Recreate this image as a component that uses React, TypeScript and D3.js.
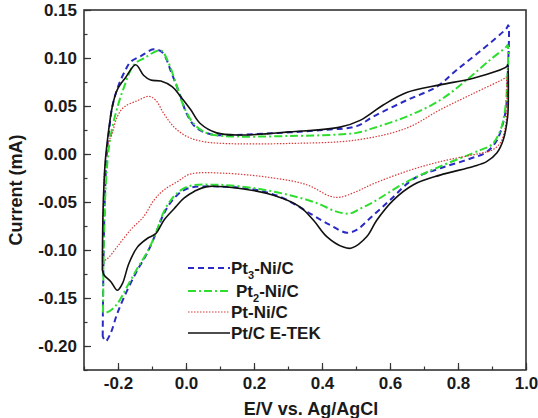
import React, { useEffect, useRef } from "react";
import * as d3 from "d3";

type Pt = [number, number];

// Pt3-Ni/C: anodic sweep then cathodic sweep
const pt3Ni: Pt[] = [
  [-0.245, -0.19], [-0.243, -0.12], [-0.239, -0.05], [-0.233, 0.0], [-0.226, 0.025], [-0.217, 0.049],
  [-0.2, 0.07], [-0.18, 0.086], [-0.163, 0.096], [-0.133, 0.102], [-0.096, 0.109], [-0.07, 0.106],
  [-0.04, 0.082], [-0.016, 0.06], [0.002, 0.042], [0.031, 0.027], [0.08, 0.02], [0.11, 0.0195],
  [0.257, 0.0216], [0.404, 0.025], [0.502, 0.029], [0.551, 0.039], [0.649, 0.056], [0.737, 0.07],
  [0.796, 0.0875], [0.865, 0.107], [0.943, 0.131], [0.948, 0.134],
  [0.946, 0.08], [0.942, 0.05], [0.933, 0.033], [0.914, 0.014], [0.884, 0.002], [0.835, -0.005],
  [0.747, -0.015], [0.669, -0.026], [0.6, -0.048], [0.541, -0.067], [0.502, -0.079], [0.473, -0.082],
  [0.424, -0.074], [0.365, -0.062], [0.286, -0.046], [0.208, -0.0375], [0.11, -0.034], [0.004, -0.036],
  [-0.035, -0.046], [-0.065, -0.062], [-0.089, -0.083], [-0.114, -0.103], [-0.143, -0.121],
  [-0.173, -0.142], [-0.202, -0.166], [-0.222, -0.187], [-0.236, -0.195], [-0.245, -0.19],
];

const pt2Ni: Pt[] = [
  [-0.244, -0.165], [-0.242, -0.1], [-0.237, -0.04], [-0.229, 0.0], [-0.222, 0.018], [-0.207, 0.042],
  [-0.182, 0.07], [-0.153, 0.093], [-0.124, 0.0997], [-0.074, 0.108], [-0.055, 0.098], [-0.03, 0.074],
  [-0.006, 0.049], [0.024, 0.031], [0.06, 0.022], [0.11, 0.0188], [0.306, 0.0188], [0.502, 0.022],
  [0.551, 0.027], [0.649, 0.039], [0.747, 0.056], [0.825, 0.077], [0.894, 0.098], [0.943, 0.112],
  [0.946, 0.1135],
  [0.944, 0.07], [0.938, 0.045], [0.925, 0.025], [0.9, 0.01], [0.865, 0.004], [0.747, -0.013],
  [0.649, -0.029], [0.551, -0.05], [0.512, -0.057], [0.482, -0.062], [0.443, -0.06], [0.384, -0.051],
  [0.306, -0.043], [0.208, -0.036], [0.09, -0.032], [0.004, -0.034], [-0.035, -0.044], [-0.065, -0.06],
  [-0.089, -0.083], [-0.114, -0.102], [-0.143, -0.119], [-0.173, -0.138], [-0.202, -0.156],
  [-0.226, -0.164], [-0.244, -0.166],
];

const ptNi: Pt[] = [
  [-0.246, -0.112], [-0.244, -0.06], [-0.238, -0.01], [-0.228, 0.012], [-0.217, 0.0216], [-0.202, 0.039],
  [-0.182, 0.049], [-0.143, 0.0555], [-0.109, 0.06], [-0.089, 0.056], [-0.065, 0.042], [-0.035, 0.028],
  [0.004, 0.018], [0.05, 0.013], [0.11, 0.011], [0.306, 0.011], [0.502, 0.0146], [0.649, 0.027],
  [0.747, 0.046], [0.845, 0.063], [0.938, 0.079], [0.941, 0.08],
  [0.944, 0.06], [0.94, 0.03], [0.925, 0.012], [0.9, 0.004], [0.865, 0.0007], [0.747, -0.008],
  [0.649, -0.018], [0.551, -0.031], [0.502, -0.039], [0.453, -0.045], [0.424, -0.044], [0.355, -0.032],
  [0.257, -0.025], [0.11, -0.02], [0.012, -0.021], [-0.026, -0.029], [-0.065, -0.0375], [-0.094, -0.048],
  [-0.124, -0.065], [-0.163, -0.079], [-0.202, -0.0965], [-0.231, -0.109], [-0.246, -0.112],
];

const ptcEtek: Pt[] = [
  [-0.246, -0.121], [-0.244, -0.06], [-0.238, -0.01], [-0.231, 0.0146], [-0.217, 0.049], [-0.202, 0.067],
  [-0.177, 0.08], [-0.148, 0.093], [-0.125, 0.082], [-0.104, 0.077], [-0.074, 0.076], [-0.04, 0.07],
  [-0.016, 0.06], [0.014, 0.046], [0.041, 0.032], [0.09, 0.022], [0.159, 0.0198], [0.306, 0.023],
  [0.453, 0.028], [0.512, 0.035], [0.58, 0.051], [0.649, 0.064], [0.747, 0.072], [0.845, 0.079],
  [0.943, 0.091], [0.946, 0.093],
  [0.948, 0.06], [0.946, 0.039], [0.933, 0.0146], [0.914, 0.001], [0.884, -0.008], [0.845, -0.013],
  [0.747, -0.022], [0.669, -0.032], [0.61, -0.048], [0.561, -0.069], [0.532, -0.086], [0.487, -0.098],
  [0.463, -0.097], [0.414, -0.086], [0.375, -0.069], [0.335, -0.055], [0.257, -0.043], [0.159, -0.036],
  [0.061, -0.034], [0.024, -0.039], [-0.006, -0.046], [-0.035, -0.057], [-0.065, -0.069],
  [-0.089, -0.083], [-0.114, -0.088], [-0.143, -0.097], [-0.168, -0.114], [-0.187, -0.135],
  [-0.202, -0.142], [-0.221, -0.133], [-0.241, -0.126], [-0.246, -0.121],
];

const xTicks = [-0.2, 0.0, 0.2, 0.4, 0.6, 0.8, 1.0];
const yTicks = [-0.2, -0.15, -0.1, -0.05, 0.0, 0.05, 0.1, 0.15];

const series = [
  { name: "Pt", sub: "3", rest: "-Ni/C", data: pt3Ni, color: "#2a2ac4", width: 2, dash: "6,4" },
  { name: "Pt", sub: "2", rest: "-Ni/C", data: pt2Ni, color: "#2ede2e", width: 2, dash: "8,3,2,3" },
  { name: "Pt-Ni/C", sub: "", rest: "", data: ptNi, color: "#d83a3a", width: 1.2, dash: "1.5,1.5" },
  { name: "Pt/C E-TEK", sub: "", rest: "", data: ptcEtek, color: "#111111", width: 1.6, dash: "" },
];

const FONT = "'Liberation Sans', Arial, sans-serif";

const App = () => {
  const ref = useRef<SVGSVGElement | null>(null);

  useEffect(() => {
    const width = 538;
    const height = 418;
    const left = 84, right = 526, top = 10, bottom = 370;

    const svg = d3.select(ref.current);
    svg.selectAll("*").remove();
    svg.attr("width", width).attr("height", height);

    const x = d3.scaleLinear().domain([-0.3, 1.0]).range([left, right]);
    const y = d3.scaleLinear().domain([-0.225, 0.15]).range([bottom, top]);

    // curves
    const line = d3
      .line<Pt>()
      .x((d) => x(d[0]))
      .y((d) => y(d[1]))
      .curve(d3.curveCatmullRom.alpha(0.5));

    series.forEach((s) => {
      svg
        .append("path")
        .datum(s.data)
        .attr("fill", "none")
        .attr("stroke", s.color)
        .attr("stroke-width", s.width)
        .attr("stroke-dasharray", s.dash || null)
        .attr("d", line);
    });

    // minor ticks
    svg
      .append("g")
      .attr("transform", `translate(${left},0)`)
      .call(d3.axisLeft(y).tickValues(d3.range(-0.225, 0.151, 0.025)).tickSize(-3.5).tickFormat(() => ""))
      .call((g) => g.select(".domain").remove())
      .selectAll("line")
      .attr("stroke", "#333")
      .attr("stroke-width", 1.2);

    svg
      .append("g")
      .attr("transform", `translate(0,${bottom})`)
      .call(d3.axisBottom(x).tickValues(d3.range(-0.3, 1.001, 0.1)).tickSize(-3.5).tickFormat(() => ""))
      .call((g) => g.select(".domain").remove())
      .selectAll("line")
      .attr("stroke", "#333")
      .attr("stroke-width", 1.2);

    // major ticks + labels
    const yAxis = svg
      .append("g")
      .attr("transform", `translate(${left},0)`)
      .call(d3.axisLeft(y).tickValues(yTicks).tickSize(-7).tickPadding(7).tickFormat(d3.format(".2f")));
    yAxis.select(".domain").remove();
    yAxis.selectAll("line").attr("stroke", "#333").attr("stroke-width", 1.2);
    yAxis
      .selectAll("text")
      .attr("font-family", FONT)
      .attr("font-weight", "bold")
      .attr("font-size", 17)
      .attr("fill", "#1a1a1a")
      .text((d: any) => d3.format(".2f")(d).replace("−", "-"));

    const xAxis = svg
      .append("g")
      .attr("transform", `translate(0,${bottom})`)
      .call(d3.axisBottom(x).tickValues(xTicks).tickSize(-7).tickPadding(7).tickFormat(d3.format(".1f")));
    xAxis.select(".domain").remove();
    xAxis.selectAll("line").attr("stroke", "#333").attr("stroke-width", 1.2);
    xAxis
      .selectAll("text")
      .attr("font-family", FONT)
      .attr("font-weight", "bold")
      .attr("font-size", 17)
      .attr("fill", "#1a1a1a")
      .text((d: any) => d3.format(".1f")(d).replace("−", "-"));

    // frame
    svg
      .append("rect")
      .attr("x", left)
      .attr("y", top)
      .attr("width", right - left)
      .attr("height", bottom - top)
      .attr("fill", "none")
      .attr("stroke", "#333")
      .attr("stroke-width", 1.6);

    // axis titles
    svg
      .append("text")
      .attr("x", 311)
      .attr("y", 415)
      .attr("text-anchor", "middle")
      .attr("font-family", FONT)
      .attr("font-weight", "bold")
      .attr("font-size", 18)
      .attr("fill", "#1a1a1a")
      .text("E/V vs. Ag/AgCl");

    svg
      .append("text")
      .attr("transform", `translate(22,${(top + bottom) / 2}) rotate(-90)`)
      .attr("text-anchor", "middle")
      .attr("font-family", FONT)
      .attr("font-weight", "bold")
      .attr("font-size", 18)
      .attr("fill", "#1a1a1a")
      .text("Current (mA)");

    // legend
    const lg = svg.append("g");
    const rowY = [268, 291, 312, 333];
    series.forEach((s, i) => {
      lg.append("line")
        .attr("x1", 188)
        .attr("x2", 230)
        .attr("y1", rowY[i])
        .attr("y2", rowY[i])
        .attr("stroke", s.color)
        .attr("stroke-width", s.width)
        .attr("stroke-dasharray", s.dash || null);
      const t = lg
        .append("text")
        .attr("x", i === 1 ? 236 : 231)
        .attr("y", rowY[i] + 6)
        .attr("font-family", FONT)
        .attr("font-weight", "bold")
        .attr("font-size", 17)
        .attr("fill", "#1a1a1a");
      t.append("tspan").text(s.name);
      if (s.sub) {
        t.append("tspan").attr("font-size", 11).attr("dy", 5).text(s.sub);
        t.append("tspan").attr("dy", -5).text(s.rest);
      }
    });
  }, []);

  return <svg ref={ref} style={{ position: "absolute", left: 0, top: 0, background: "#fff" }} />;
};

export default App;
